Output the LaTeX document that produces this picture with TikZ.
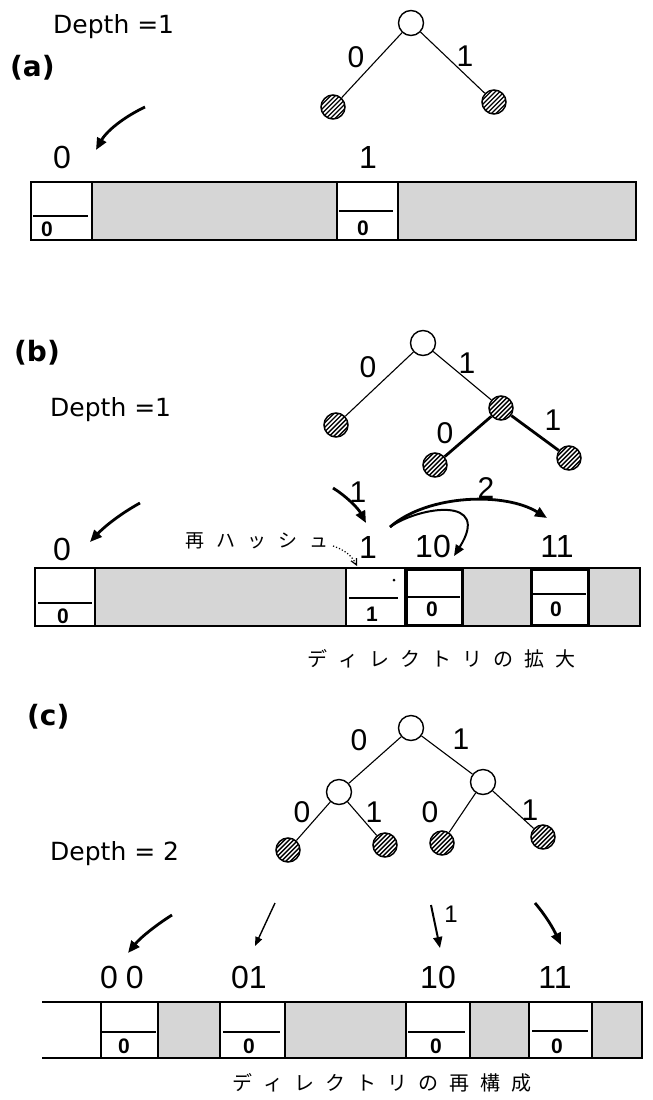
\documentclass[tikz,border=0pt]{standalone}
\usepackage{fontspec}
\setmainfont{Liberation Sans}
\newfontfamily\dvs{DejaVu Sans}
\newfontfamily\jp{Noto Sans CJK JP}
\usetikzlibrary{arrows.meta}
\newcommand\jsp{\hskip 11pt}
\newcommand\jsq{\hskip 12pt}
\begin{document}
\begin{tikzpicture}[x=1pt,y=-1pt,
  wnode/.style={circle,draw,line width=1.4pt,minimum size=25pt,inner sep=0pt,fill=white},
  hnode/.style={circle,draw,line width=1.5pt,minimum size=24pt,inner sep=0pt,
    path picture={\foreach \d in {-18,-13.5,...,18}{\draw[line width=1.4pt] ([xshift=\d pt]path picture bounding box.center) ++(-14,14) -- ++(28,-28);}}},
  edge/.style={line width=1.1pt},
  tedge/.style={line width=2.8pt},
  big/.style={font=\fontsize{32}{32}\selectfont,inner sep=0pt},
  tl/.style={font=\fontsize{30}{30}\selectfont,inner sep=0pt},
  dep/.style={font=\dvs\fontsize{25}{25}\selectfont,inner sep=0pt,anchor=base west},
  part/.style={font=\dvs\fontsize{28}{28}\selectfont\bfseries,inner sep=0pt,anchor=base west},
  cd/.style={font=\fontsize{21}{21}\selectfont\bfseries,inner sep=0pt},
  captxt/.style={font=\jp\fontsize{20}{20}\selectfont,inner sep=0pt},
  stip/.style={fill=black!16},
  barline/.style={line width=1.4pt},
  cell/.style={line width=1.3pt,fill=white},
  tcell/.style={line width=3pt,fill=white},
  tarrow/.style={line width=2.8pt,-{Triangle[length=12pt,width=10pt]}},
  marrow/.style={line width=2pt,-{Triangle[length=11pt,width=9pt]}},
  narrow/.style={line width=1.4pt,-{Triangle[length=9pt,width=7pt]}},
  darrow/.style={line width=1.2pt,dotted,-{Straight Barb[length=6pt,width=6pt]}}
]
\useasboundingbox (0,0) rectangle (653,1100);
\fill[white] (0,0) rectangle (653,1100);

% ================= (a) =================
\node[dep] (aDepth) at (53,33) {Depth =1};
\node[part] (aPart) at (10,76) {(a)};
\node[wnode] (aR) at (411,23) {};
\node[hnode] (aL0) at (333,107) {};
\node[hnode] (aL1) at (494,102) {};
\draw[edge] (aR) -- (aL0);
\draw[edge] (aR) -- (aL1);
\node[tl] (aE0) at (356,57) {0};
\node[tl] (aE1) at (465,56) {1};
\coordinate (aS) at (145,107);
\coordinate (aT) at (96,150);
\draw[tarrow] (aS) .. controls (122,118) and (106,132) .. (aT);
\node[big] (aN0) at (62,157) {0};
\node[big] (aN1) at (368,157) {1};
% bar
\fill[stip] (31,182) rectangle (636,240);
\draw[barline] (31,182) rectangle (636,240);
\draw[cell] (31,182) rectangle (92,240);
\draw[cell] (337,182) rectangle (398,240);
\draw[line width=1.2pt] (33,216) -- (88,216);
\draw[line width=1.2pt] (339,211) -- (393,211);
\node[cd] (aC0) at (47,229) {0};
\node[cd] (aC1) at (363,228) {0};

% ================= (b) =================
\node[part] (bPart) at (14,361) {(b)};
\node[dep] (bDepth) at (50,416) {Depth =1};
\node[wnode] (bR) at (423,343) {};
\node[hnode] (bL0) at (336,425) {};
\node[hnode] (bM) at (501,408) {};
\node[hnode] (bC0) at (435,465) {};
\node[hnode] (bC1) at (569,458) {};
\draw[edge] (bR) -- (bL0);
\draw[edge] (bR) -- (bM);
\draw[tedge] (bM) -- (bC0);
\draw[tedge] (bM) -- (bC1);
\node[tl] (bE0) at (368,367) {0};
\node[tl] (bE1) at (467,363) {1};
\node[tl] (bE2) at (445,433) {0};
\node[tl] (bE3) at (553,420) {1};
% arrows
\coordinate (bS0) at (140,503);
\coordinate (bT0) at (90,542);
\draw[tarrow] (bS0) .. controls (120,514) and (104,527) .. (bT0);
\coordinate (bS1) at (333,488);
\coordinate (bT1) at (366,523);
\draw[tarrow] (bS1) .. controls (346,496) and (358,508) .. (bT1);
\node[tl] (bK1) at (358,492) {1};
\coordinate (bS2) at (390,527);
\coordinate (bT2) at (547,518);
\coordinate (bT3) at (454,556);
\draw[tarrow] (bS2) .. controls (428,494) and (505,492) .. (bT2);
\draw[marrow] (bS2) .. controls (420,506) and (492,496) .. (bT3);
\node[tl] (bK2) at (486,488) {2};
% rehash
\node[font=\jp\fontsize{19}{19}\selectfont,inner sep=0pt] (bRH) at (257,541) {再\jsq ハ\jsq ッ\jsq シ\jsq ュ};
\coordinate (bDS) at (333,546);
\coordinate (bDT) at (357,566);
\draw[darrow] (bDS) .. controls (345,550) and (352,556) .. (bDT);
% labels
\node[big] (bN0) at (62,549) {0};
\node[big] (bN1) at (368,547) {1};
\node[big] (bN10) at (433,546) {10};
\node[big] (bN11) at (557,546) {11};
% bar
\fill[stip] (35,568) rectangle (640,626);
\draw[barline] (35,568) rectangle (640,626);
\draw[cell] (35,568) rectangle (95,626);
\draw[cell] (346,568) rectangle (405,626);
\draw[tcell] (406,569) rectangle (462,625);
\draw[tcell] (531,569) rectangle (588,625);
\draw[line width=1.2pt] (38,603) -- (92,603);
\draw[line width=1.2pt] (349,598) -- (398,598);
\draw[line width=1.2pt] (408,597) -- (460,597);
\draw[line width=1.2pt] (533,594) -- (586,594);
\node[cd] (bC0) at (63,616) {0};
\node[cd] (bC1) at (372,614) {1};
\node[cd] (bC2) at (432,609) {0};
\node[cd] (bC3) at (556,609) {0};
\fill (394,580) circle (1.5pt);
\node[captxt] (bCap) at (441,659) {デ\jsp ィ\jsp レ\jsp ク\jsp ト\jsp リ\jsp の\jsp 拡\jsp 大};

% ================= (c) =================
\node[part] (cPart) at (27,725) {(c)};
\node[dep] (cDepth) at (50,860) {Depth = 2};
\node[wnode] (cR) at (411,728) {};
\node[wnode] (cM0) at (339,792) {};
\node[wnode] (cM1) at (483,782) {};
\node[hnode] (cL0) at (288,850) {};
\node[hnode] (cL1) at (385,845) {};
\node[hnode] (cL2) at (442,843) {};
\node[hnode] (cL3) at (543,837) {};
\draw[edge] (cR) -- (cM0);
\draw[edge] (cR) -- (cM1);
\draw[edge] (cM0) -- (cL0);
\draw[edge] (cM0) -- (cL1);
\draw[edge] (cM1) -- (cL2);
\draw[edge] (cM1) -- (cL3);
\node[tl] (cE0) at (359,740) {0};
\node[tl] (cE1) at (461,739) {1};
\node[tl] (cE2) at (302,812) {0};
\node[tl] (cE3) at (374,812) {1};
\node[tl] (cE4) at (430,812) {0};
\node[tl] (cE5) at (530,810) {1};
% arrows
\coordinate (cS0) at (172,915);
\coordinate (cT0) at (128,953);
\draw[tarrow] (cS0) .. controls (156,925) and (140,938) .. (cT0);
\coordinate (cS1) at (275,903);
\coordinate (cT1) at (255,946);
\draw[narrow] (cS1) -- (cT1);
\coordinate (cS2) at (431,905);
\coordinate (cT2) at (440,948);
\draw[marrow] (cS2) -- (cT2);
\node[font=\fontsize{24}{24}\selectfont,inner sep=0pt] (cK1) at (451,914) {1};
\coordinate (cS3) at (535,903);
\coordinate (cT3) at (561,945);
\draw[tarrow] (cS3) .. controls (546,916) and (553,928) .. (cT3);
% labels
\node[big] (cN0) at (122,977) {0\hskip8pt 0};
\node[big] (cN1) at (249,977) {01};
\node[big] (cN2) at (438,977) {10};
\node[big] (cN3) at (555,977) {11};
% bar
\fill[stip] (158,1002) rectangle (642,1058);
\fill[white] (220,1002) rectangle (285,1058);
\fill[white] (406,1002) rectangle (470,1058);
\fill[white] (529,1002) rectangle (592,1058);
\draw[barline] (42,1002) -- (642,1002) -- (642,1058) -- (42,1058);
\draw[line width=1.3pt] (101,1002) -- (101,1058);
\draw[line width=1.3pt] (158,1002) -- (158,1058);
\draw[line width=1.3pt] (220,1002) -- (220,1058);
\draw[line width=1.3pt] (285,1002) -- (285,1058);
\draw[line width=1.3pt] (406,1002) -- (406,1058);
\draw[line width=1.3pt] (470,1002) -- (470,1058);
\draw[line width=1.3pt] (529,1002) -- (529,1058);
\draw[line width=1.3pt] (592,1002) -- (592,1058);
\draw[line width=1.2pt] (101,1032) -- (156,1032);
\draw[line width=1.2pt] (223,1032) -- (280,1032);
\draw[line width=1.2pt] (408,1032) -- (465,1032);
\draw[line width=1.2pt] (532,1031) -- (588,1031);
\node[cd] (cC0) at (124,1046) {0};
\node[cd] (cC1) at (249,1046) {0};
\node[cd] (cC2) at (436,1046) {0};
\node[cd] (cC3) at (557,1046) {0};
\node[captxt] (cCap) at (382,1083) {デ\jsp ィ\jsp レ\jsp ク\jsp ト\jsp リ\jsp の\jsp 再\jsp 構\jsp 成};
\end{tikzpicture}
\end{document}
